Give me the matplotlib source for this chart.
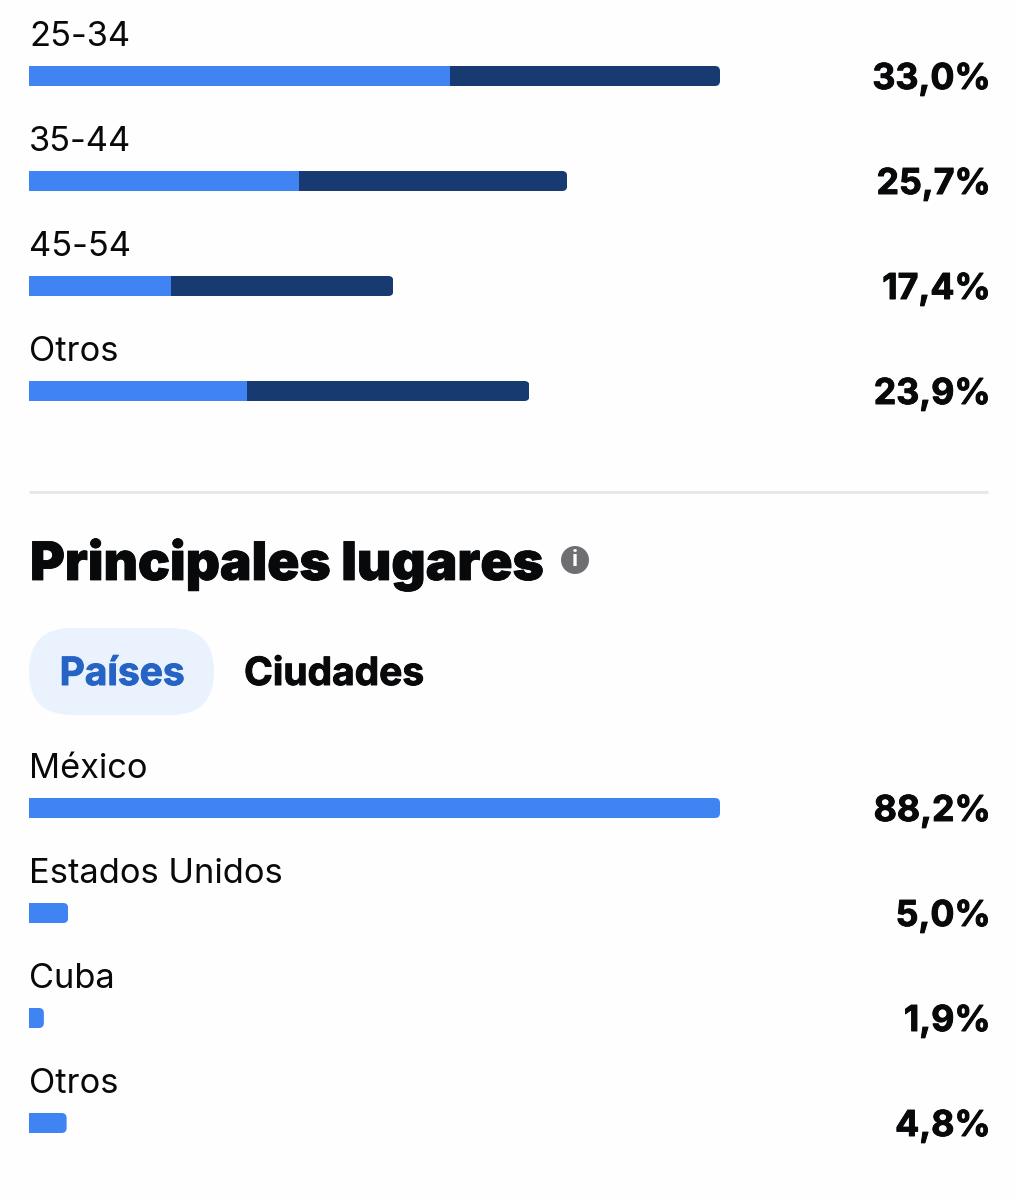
import matplotlib
matplotlib.use("Agg")
import matplotlib.pyplot as plt
import matplotlib.patheffects as pe
from matplotlib.patches import Circle, FancyBboxPatch
from matplotlib.path import Path
from matplotlib.transforms import IdentityTransform

plt.rcParams['font.family'] = ['Inter', 'DejaVu Sans']

W, H = 1018, 1200

# edad
age_labels = ["25-34", "35-44", "45-54", "Otros"]
age_total = [33.0, 25.7, 17.4, 23.9]
age_light = [20.1, 12.9, 6.8, 10.4]

# paises
place_labels = ["México", "Estados Unidos", "Cuba", "Otros"]
place_total = [88.2, 5.0, 1.9, 4.8]

LIGHT = "#4083f3"
DARK = "#173a70"
INK = "#08090b"

fig = plt.figure(figsize=(W / 100, H / 100), dpi=100, facecolor="#fefefe")

# capa en pixeles para lo que no son datos
bg = fig.add_axes([0, 0, 1, 1])
bg.set_xlim(0, W)
bg.set_ylim(H, 0)
bg.axis("off")


def heavier(text, width):
    # el Inter instalado no llega al peso del original
    text.set_path_effects([pe.withStroke(linewidth=width, foreground=text.get_color())])


def make_axes(first_center, xmax):
    # 691 px de barra para el valor mas grande, filas cada 105 px
    top = first_center - 52.5
    ax = fig.add_axes([29 / W, 1 - (top + 420) / H, 691 / W, 420 / H])
    ax.set_xlim(0, xmax)
    ax.set_ylim(3.5, -0.5)
    ax.axis("off")
    ax.patch.set_alpha(0)
    return ax


def round_right(ax, bar, radius=5):
    # solo las esquinas de la derecha van redondeadas
    fig.canvas.draw()
    box = bar.get_window_extent()
    clip = FancyBboxPatch((box.x0 - 20, box.y0), box.width + 20, box.height,
                          boxstyle=f"round,pad=0,rounding_size={radius}")
    path = clip.get_path().transformed(clip.get_transform())
    bar.set_clip_path(Path(path.vertices, path.codes), IdentityTransform())


def add_texts(ax, labels, totals):
    for i, (label, value) in enumerate(zip(labels, totals)):
        ax.annotate(label, xy=(0, i), xytext=(0, 23), textcoords="offset pixels",
                    fontsize=24.8, color=INK, ha="left", va="bottom")
        t = ax.annotate(f"{value:.1f}%".replace(".", ","),
                        xy=(990.5 / W, i), xycoords=(fig.transFigure, ax.get_yaxis_transform()),
                        fontsize=25.7, fontweight="bold", color=INK,
                        ha="right", va="center_baseline")
        heavier(t, 0.7)


ax1 = make_axes(76, age_total[0])
for i in range(len(age_labels)):
    ax1.barh(i, age_light[i], height=20 / 105, color=LIGHT)
    dark = ax1.barh(i, age_total[i] - age_light[i], left=age_light[i], height=20 / 105, color=DARK)[0]
    round_right(ax1, dark)
add_texts(ax1, age_labels, age_total)

ax2 = make_axes(808, place_total[0])
for i in range(len(place_labels)):
    bar = ax2.barh(i, place_total[i], height=20 / 105, color=LIGHT)[0]
    round_right(ax2, bar)
add_texts(ax2, place_labels, place_total)

# separador
bg.plot([29, 988], [491.5, 491.5], color="#e6e7e9", lw=2, solid_capstyle="butt")

# titulo
title = bg.text(30, 580, "Principales lugares", fontsize=38.2, fontweight="black", color=INK,
                ha="left", va="baseline")
heavier(title, 0.6)
bg.add_patch(Circle((575, 560), 14, color="#6e6e73", lw=0))
bg.text(575, 560.5, "i", fontsize=16, fontweight="bold", color="white", ha="center", va="center")

# pestañas
bg.add_patch(FancyBboxPatch((29, 628), 185, 87, boxstyle="round,pad=0,rounding_size=43",
                            fc="#eaf3fd", ec="none"))
paises = bg.text(122, 685, "Países", fontsize=28, fontweight="bold", color="#2563c5", ha="center", va="baseline")
ciudades = bg.text(334, 685, "Ciudades", fontsize=28, fontweight="bold", color=INK, ha="center", va="baseline")
heavier(paises, 0.7)
heavier(ciudades, 0.7)

fig.savefig("out.png", dpi=100, facecolor=fig.get_facecolor())
